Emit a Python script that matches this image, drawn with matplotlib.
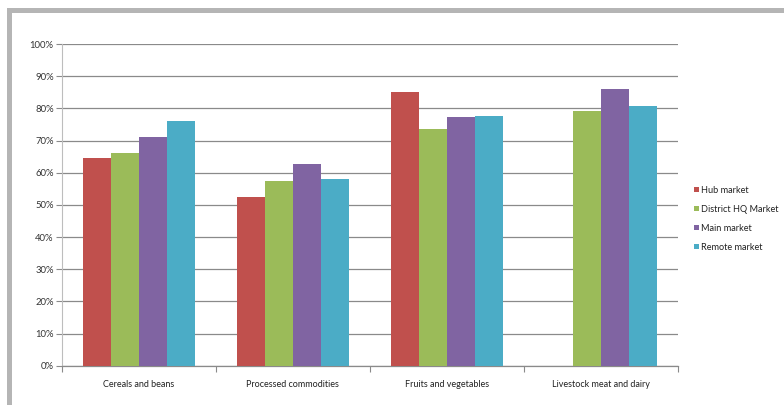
import matplotlib
matplotlib.use("Agg")
import matplotlib.pyplot as plt
from matplotlib.patches import Rectangle
import numpy as np

categories = ["Cereals and beans", "Processed commodities", "Fruits and vegetables", "Livestock meat and dairy"]
series_names = ["Hub market", "District HQ Market", "Main market", "Remote market"]
hub_market = [64.5, 52.3, 85.0, 0.0]
district_hq_market = [66.2, 57.5, 73.7, 79.3]
main_market = [71.1, 62.7, 77.4, 86.1]
remote_market = [76.0, 58.0, 77.6, 80.8]
y_ticks = [0, 10, 20, 30, 40, 50, 60, 70, 80, 90, 100]
y_tick_labels = [f"{t}%" for t in y_ticks]

colors = ["#C0504D", "#9BBB59", "#8064A2", "#4BACC6"]
series = [hub_market, district_hq_market, main_market, remote_market]

plt.rcParams["font.family"] = ["Lato", "DejaVu Sans"]

fig = plt.figure(figsize=(7.84, 4.05), dpi=100)
fig.patch.set_facecolor("white")

# Frame strips along the top and left edges
fig.patches.append(Rectangle((7 / 784, 1 - 13 / 405), 1, 5 / 405, transform=fig.transFigure,
                             facecolor="#b5b5b5", edgecolor="none"))
fig.patches.append(Rectangle((7 / 784, 0), 5 / 784, 1 - 8 / 405, transform=fig.transFigure,
                             facecolor="#b5b5b5", edgecolor="none"))

ax = fig.add_axes([62 / 784, 39.3 / 405, 615.7 / 784, 321.7 / 405])

n_cat = len(categories)
n_ser = len(series)
bar_w = 1 / (n_ser + 1.5)
x = np.arange(n_cat)
for i, (vals, name, col) in enumerate(zip(series, series_names, colors)):
    offs = (i - (n_ser - 1) / 2) * bar_w
    ax.bar(x + offs, vals, width=bar_w, color=col, label=name, zorder=3, linewidth=0)

ax.set_xlim(-0.5, n_cat - 0.5)
ax.set_ylim(0, 100)
ax.set_yticks(y_ticks)
ax.set_yticklabels(y_tick_labels, fontsize=6.8, color="#333333")
ax.yaxis.grid(True, color="#8a8a8a", linewidth=0.9, zorder=0)
ax.tick_params(axis="y", length=4, width=0.8, color="#8a8a8a", pad=2)

ax.set_xticks(x)
ax.set_xticklabels(categories, fontsize=6.5, color="#222222")
ax.set_xticks(np.arange(-0.5, n_cat, 1), minor=True)
ax.tick_params(axis="x", which="major", length=0, pad=10)
ax.tick_params(axis="x", which="minor", length=4, width=0.8, color="#8a8a8a")

for side in ["top", "right"]:
    ax.spines[side].set_visible(False)
ax.spines["left"].set_color("#bdbdbd")
ax.spines["left"].set_linewidth(0.8)
ax.spines["bottom"].set_color("#8a8a8a")
ax.spines["bottom"].set_linewidth(0.9)

leg = fig.legend(loc="upper left", bbox_to_anchor=(689 / 784, 1 - 181 / 405), frameon=False,
                 fontsize=6.6, handlelength=0.55, handleheight=0.55, handletextpad=0.3,
                 labelspacing=1.1, borderpad=0)
for t in leg.get_texts():
    t.set_color("#222222")

fig.savefig("out.png", dpi=100, facecolor="white")
